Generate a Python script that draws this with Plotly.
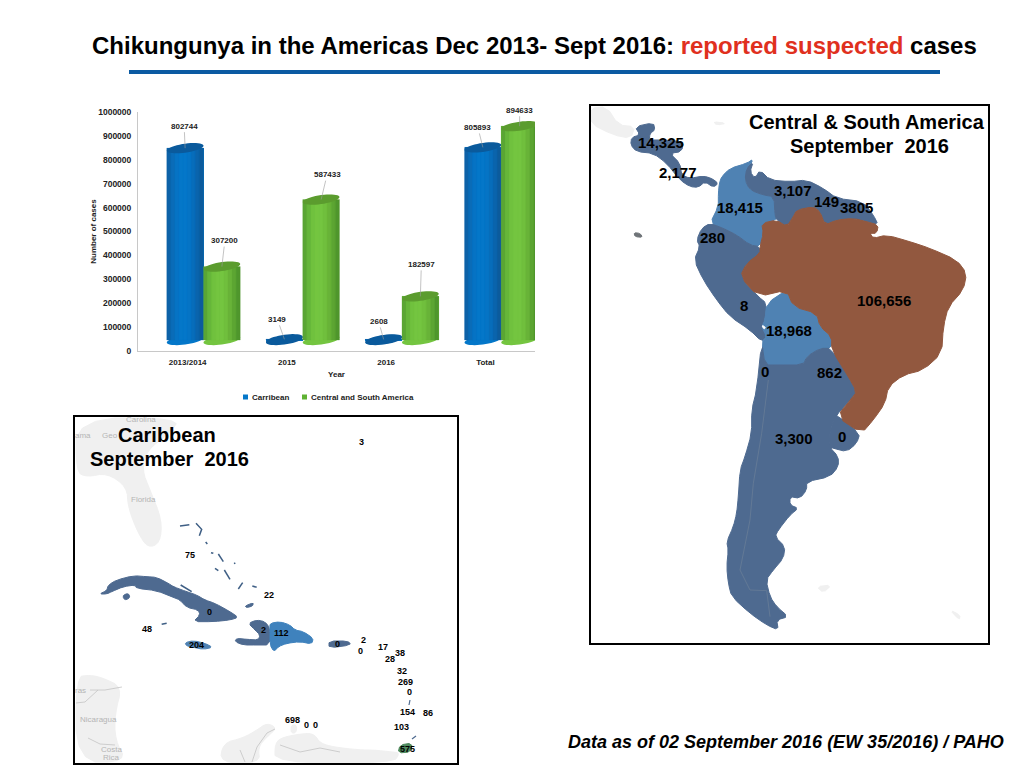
import math
import plotly.graph_objects as go

# ---------- chart data ----------
categories = ["2013/2014", "2015", "2016", "Total"]
caribbean = [802744, 3149, 2608, 805893]
central_south = [307200, 587433, 182597, 894633]
y_ticks = [0, 100000, 200000, 300000, 400000, 500000, 600000, 700000, 800000, 900000, 1000000]

sa_labels = ["14,325", "2,177", "3,107", "149", "3805", "18,415", "280", "106,656", "8", "18,968", "0", "862", "3,300", "0"]
carib_labels = ["3", "75", "22", "0", "48", "204", "2", "112", "0", "2", "0", "17", "38", "28", "32", "269", "0", "154", "86", "103", "698", "0", "0", "575"]

# ---------- style / placement ----------
W, H = 1024, 768
FONT = "Liberation Sans"
BASE = 46000                   # the cylinders float on the 3D floor of the chart
BAR_W = 0.37
BLUE_OFF, GREEN_OFF = -0.21, 0.16
UNITS_PER_PX = 1000000 / 239

blue_strips = ["#0d62a8", "#0a6cb8", "#0673c4", "#0477c9", "#0477c9", "#0574c5", "#076dba", "#0a64ac", "#0c5b9c"]
green_strips = ["#5aa534", "#66b63a", "#70c13e", "#74c540", "#74c540", "#70bf3d", "#68b338", "#5ca532", "#4f962c"]
BLUE_CAP, GREEN_CAP = "#0a5a9c", "#5b9c2e"

offsets_blue = [(-1, -22), (-7, -20), (-5, -18), (-5, -20)]
offsets_green = [(3, -26), (6, -25), (1, -32), (0, -16)]

sa_pos = [(661, 143), (678, 172), (793, 190), (826, 201), (856, 207), (740, 208), (712, 238), (884, 301),
          (744, 305), (789, 331), (765, 371), (829, 372), (794, 438), (842, 436)]
carib_pos = [(361, 442), (190, 555), (269, 595), (209, 612), (147, 629), (196, 645), (263, 630), (281, 633),
             (337, 644), (363, 640), (360, 651), (383, 647), (400, 653), (390, 659), (402, 671), (405, 682),
             (409, 692), (407, 712), (428, 713), (401, 727), (292, 720), (306, 725), (315, 725), (407, 749)]

DARK, LIGHT, BROWN, GREY = "#4e6a90", "#4f82b3", "#92583f", "#f0f0f0"

# basemap outlines, traced in 3x zoom coordinates around (590,100)
sa_shapes = [
    (GREY, [(0, 25), (50, 20), (85, 75), (135, 80), (122, 115), (70, 105), (0, 70)]),
    (GREY, [(370, 65), (410, 70), (380, 75)]),
    (GREY, [(680, 1460), (725, 1455), (700, 1478)]),
    (GREY, [(1080, 1530), (1110, 1545), (1108, 1560)]),
    (DARK, [(135, 80), (190, 68), (195, 90), (180, 100), (178, 120), (225, 120), (280, 125), (275, 155), (240, 160),
            (270, 190), (275, 225), (300, 235), (340, 228), (365, 235), (385, 250), (370, 262), (345, 245), (325, 262),
            (300, 260), (270, 240), (230, 190), (190, 160), (140, 155), (122, 135), (125, 112), (150, 105)]),
    (LIGHT, [(388, 250), (395, 230), (420, 205), (470, 190), (490, 177), (475, 205), (465, 240), (480, 270), (520, 285),
             (552, 290), (555, 345), (560, 360), (515, 370), (520, 400), (510, 440), (480, 435), (440, 405), (400, 385),
             (360, 370), (385, 320), (385, 280)]),
    (DARK, [(470, 205), (490, 185), (480, 215), (495, 235), (510, 210), (540, 240), (600, 245), (650, 240), (700, 265),
            (740, 295), (820, 305), (850, 345), (865, 375), (830, 365), (790, 355), (740, 360), (705, 375), (690, 335),
            (670, 320), (620, 330), (610, 350), (590, 380), (560, 360), (555, 345), (552, 290), (520, 285), (480, 270),
            (465, 240)]),
    (DARK, [(360, 370), (400, 385), (440, 405), (480, 435), (510, 440), (510, 465), (470, 490), (450, 530), (505, 590),
            (530, 610), (525, 660), (515, 680), (530, 710), (515, 725), (480, 690), (420, 650), (380, 600), (340, 540),
            (312, 480), (330, 440), (320, 420), (335, 385)]),
    (LIGHT, [(530, 610), (590, 570), (610, 620), (680, 640), (690, 680), (725, 710), (725, 745), (690, 745), (650, 770),
             (640, 795), (560, 795), (525, 795), (515, 725), (530, 710), (515, 680), (525, 660)]),
    (DARK, [(515, 725), (525, 795), (560, 795), (640, 795), (650, 770), (690, 745), (725, 745), (775, 830), (800, 875),
            (785, 895), (735, 950), (720, 990), (718, 1040), (745, 1070), (745, 1100), (720, 1130), (650, 1145), (650, 1170),
            (630, 1195), (600, 1190), (600, 1215), (625, 1225), (600, 1245), (565, 1290), (555, 1310), (585, 1340), (580, 1375),
            (550, 1410), (528, 1440), (540, 1490), (560, 1520), (595, 1550), (560, 1560), (565, 1590), (530, 1575), (480, 1540),
            (425, 1490), (415, 1450), (410, 1400), (415, 1350), (410, 1325), (430, 1280), (440, 1240), (445, 1190), (450, 1110),
            (465, 1070), (485, 1000), (485, 930), (500, 870)]),
    (DARK, [(735, 950), (740, 945), (810, 1000), (800, 1030), (770, 1055), (730, 1045), (718, 1040), (720, 990)]),
    (BROWN, [(515, 370), (560, 360), (590, 380), (610, 350), (620, 330), (670, 320), (690, 335), (705, 375), (740, 360),
             (790, 355), (830, 365), (865, 375), (860, 400), (840, 400), (850, 415), (890, 405), (960, 425), (1020, 445),
             (1100, 480), (1130, 520), (1120, 570), (1075, 620), (1060, 680), (1055, 760), (1000, 810), (940, 825), (895, 860),
             (885, 910), (850, 960), (815, 1000), (740, 950), (785, 895), (800, 875), (775, 830), (725, 750), (725, 710),
             (690, 680), (680, 640), (610, 620), (590, 570), (505, 590), (450, 530), (470, 490), (510, 460), (510, 440), (520, 400)]),
    ("#6f7478", [(132, 398), (150, 400), (158, 412), (135, 410)]),
    ("#ffffff", [(515, 675), (527, 682), (522, 688)]),
]
sa_origin = (590, 100)
andes_line = [(535, 840), (515, 1000), (490, 1150), (480, 1260), (450, 1410), (480, 1470), (530, 1472), (540, 1550)]

# Caribbean panel: grey land in page pixels, islands in 3x zoom coordinates around (90,520)
us_south = [(76, 418), (180, 418), (170, 433), (147, 450), (142, 470), (150, 490), (162, 520), (160, 543),
            (148, 548), (138, 533), (128, 507), (127, 487), (107, 473), (87, 477), (76, 472)]
central_am = [(76, 677), (90, 675), (103, 678), (122, 687), (115, 713), (115, 740), (127, 762), (76, 762)]
colombia_grey = [(220, 763), (223, 743), (243, 738), (257, 730), (267, 723), (277, 728), (267, 737), (258, 747), (260, 763)]
venezuela_grey = [(275, 743), (283, 737), (307, 733), (315, 735), (320, 743), (333, 747), (360, 750), (373, 750),
                  (393, 752), (400, 753), (393, 763), (275, 763)]
aruba_grey = [(291, 725), (297, 725), (296, 733), (291, 733)]
origin_c = (90, 520)
cuba = [(28, 222), (50, 212), (55, 195), (80, 180), (130, 167), (170, 170), (200, 172), (235, 190), (250, 200), (290, 215),
        (320, 225), (345, 240), (375, 250), (420, 275), (445, 292), (420, 300), (370, 305), (310, 305), (330, 285), (325, 270),
        (290, 262), (270, 240), (250, 232), (200, 212), (140, 205), (135, 195), (100, 200), (65, 215), (50, 222)]
juventud = [(100, 225), (115, 220), (120, 232), (108, 240), (100, 235)]
jamaica = [(285, 368), (310, 362), (345, 370), (368, 382), (340, 388), (310, 382), (290, 378)]
haiti = [(475, 310), (500, 300), (525, 305), (540, 325), (540, 375), (500, 375), (460, 375), (435, 365), (440, 355),
         (470, 358), (505, 360), (510, 345), (495, 330)]
dominican = [(540, 310), (570, 305), (600, 315), (615, 330), (640, 335), (670, 355), (665, 372), (630, 365), (590, 370),
             (565, 380), (552, 395), (540, 375), (540, 325)]
turks = [(465, 258), (490, 248), (488, 258), (470, 263)]
puerto_rico = [(329, 641), (348, 641), (351, 645), (329, 648)]     # page pixels
trinidad = [(400, 745), (412, 743), (411, 752), (398, 753)]        # page pixels
bahamas_strokes = [
    [(270, 18), (298, 14)], [(318, 10), (335, 28), (328, 47)], [(347, 66), (352, 72)], [(363, 98), (370, 100)],
    [(385, 102), (400, 125)], [(375, 145), (385, 152)], [(403, 150), (420, 178)], [(433, 128), (435, 132)],
    [(458, 188), (445, 207)], [(487, 198), (500, 202)], [(272, 195), (305, 215)], [(215, 313), (230, 310)],
]
east_strokes = [[(410, 700), (409, 705)], [(412, 739), (416, 736)]]
grey_lines = [[(90, 690), (105, 690), (122, 687)], [(76, 703), (85, 702), (98, 690)], [(88, 738), (100, 744), (115, 745)],
              [(275, 729), (267, 733), (257, 747), (252, 762)], [(240, 750), (245, 762)], [(280, 745), (300, 752), (320, 748), (340, 752)]]

def px(x):
    return x / W

def py(y):
    return 1 - y / H

def chaikin(points, rounds=1):
    for _ in range(rounds):
        out = []
        n = len(points)
        for i in range(n):
            (x0, y0), (x1, y1) = points[i], points[(i + 1) % n]
            out.append((0.75 * x0 + 0.25 * x1, 0.75 * y0 + 0.25 * y1))
            out.append((0.25 * x0 + 0.75 * x1, 0.25 * y0 + 0.75 * y1))
        points = out
    return points

def poly_path(points):
    return "M" + "L".join(f"{px(x):.5f},{py(y):.5f}" for x, y in points) + "Z"

def open_path(points):
    return "M" + "L".join(f"{px(x):.5f},{py(y):.5f}" for x, y in points)

def from_zoom(points, origin):
    return [(origin[0] + x / 3, origin[1] + y / 3) for x, y in points]

shapes = []
annotations = []

def poly(points, color, rounds=1):
    shapes.append(dict(type="path", xref="paper", yref="paper", path=poly_path(chaikin(points, rounds)), fillcolor=color,
                       line=dict(color=color, width=1), layer="below"))

def stroke(points, color, width):
    shapes.append(dict(type="path", xref="paper", yref="paper", line=dict(color=color, width=width), layer="below",
                       path=open_path(points)))

def note(x, y, text, size, color="#000000", anchor="center"):
    annotations.append(dict(xref="paper", yref="paper", x=px(x), y=py(y), text=text, showarrow=False,
                            xanchor=anchor, yanchor="middle", font=dict(family=FONT, size=size, color=color)))

def frame(x0, y0, x1, y1):
    shapes.append(dict(type="rect", xref="paper", yref="paper", x0=px(x0), x1=px(x1), y0=py(y0), y1=py(y1),
                       line=dict(color="#000000", width=2), layer="above"))

# ---------- maps ----------
for color, pts in sa_shapes:
    poly(from_zoom(pts, sa_origin), color)
stroke(from_zoom(andes_line, sa_origin), "#6c7f98", 0.7)

for pts in (us_south, central_am, colombia_grey, venezuela_grey, aruba_grey):
    poly(pts, GREY, rounds=2)
for pts in (cuba, haiti, juventud, turks):
    poly(from_zoom(pts, origin_c), DARK)
poly(puerto_rico, DARK)
poly(from_zoom(jamaica, origin_c), LIGHT)
poly(from_zoom(dominican, origin_c), "#3f82bd")
poly(trinidad, "#4f8a5f")
for s in bahamas_strokes:
    stroke(from_zoom(s, origin_c), "#3f5f85", 1.5)
for s in east_strokes:
    stroke(s, "#4e6a90", 1.2)
for s in grey_lines:
    stroke(s, "#c4c4c4", 0.8)

frame(590, 105, 989, 644)
frame(74, 416, 458, 764)

for (x, y), t in zip(sa_pos, sa_labels):
    note(x, y, f"<b>{t}</b>", 15)
for (x, y), t in zip(carib_pos, carib_labels):
    note(x, y, f"<b>{t}</b>", 9)

for x, y, t in [(141, 419, "Carolina"), (83, 435, "ama"), (110, 435, "Geo"), (143, 499, "Florida"), (80, 690, "ras"),
                (98, 719, "Nicaragua"), (111, 749, "Costa"), (111, 757, "Rica")]:
    note(x, y, t, 8, color="#b5b5b5")

# ---------- cylinders over the bars ----------
def ellipse(cx, cy, half_w):
    pts = []
    for k in range(40):
        t = 2 * math.pi * k / 40
        pts.append((cx + half_w * math.cos(t),
                    cy + UNITS_PER_PX * (4.5 * math.sin(t) + 2.5 * math.cos(t))))
    return "M" + "L".join(f"{a:.4f},{b:.1f}" for a, b in pts) + "Z"

def cylinders(values, off, strips, cap):
    for i, v in enumerate(values):
        left = i + off
        n = len(strips)
        shapes.append(dict(type="path", xref="x", yref="y", path=ellipse(left + BAR_W / 2, BASE, BAR_W / 2),
                           fillcolor=strips[n // 2] if v > 10000 else cap, line=dict(width=0), layer="above"))
        for k, c in enumerate(strips):
            shapes.append(dict(type="rect", xref="x", yref="y", x0=left + k * BAR_W / n, x1=left + (k + 1) * BAR_W / n,
                               y0=BASE, y1=BASE + v, fillcolor=c, line=dict(width=0.3, color=c), layer="above"))
        shapes.append(dict(type="path", xref="x", yref="y", path=ellipse(left + BAR_W / 2, BASE + v, BAR_W / 2),
                           fillcolor=cap, line=dict(width=0), layer="above"))

cylinders(caribbean, BLUE_OFF, blue_strips, BLUE_CAP)
cylinders(central_south, GREEN_OFF, green_strips, GREEN_CAP)

def value_labels(values, off, offsets):
    for i, (v, (dx, dy)) in enumerate(zip(values, offsets)):
        annotations.append(dict(xref="x", yref="y", x=i + off + BAR_W / 2, y=BASE + v, text=f"<b>{v}</b>",
                                ax=dx, ay=dy, showarrow=True, arrowhead=0, arrowwidth=0.6, arrowcolor="#9a9a9a",
                                font=dict(family=FONT, size=8, color="#222222")))

value_labels(caribbean, BLUE_OFF, offsets_blue)
value_labels(central_south, GREEN_OFF, offsets_green)

# ---------- legend (small squares tight to their text) ----------
legend_items = [("Carribean", "#0477c9", 243), ("Central and South America", "#5fb233", 302)]
for name, color, x0 in legend_items:
    shapes.append(dict(type="rect", xref="paper", yref="paper", x0=px(x0), x1=px(x0 + 5), y0=py(399.5), y1=py(394.5),
                       fillcolor=color, line=dict(width=0), layer="above"))
    note(x0 + 7, 397, f"<b>{name}</b>", 8, color="#222222", anchor="left")

# ---------- slide text ----------
note(534, 45, "<b>Chikungunya in the Americas Dec 2013- Sept 2016: <span style='color:#e0301e'>reported suspected</span> cases</b>", 24)
shapes.append(dict(type="line", xref="paper", yref="paper", x0=px(129), x1=px(940), y0=py(72), y1=py(72),
                   line=dict(color="#0b5aa2", width=4)))
note(867, 122, "<b>Central &amp; South America</b>", 20)
note(869, 146, "<b>September  2016</b>", 20)
note(167, 435, "<b>Caribbean</b>", 20)
note(169, 459, "<b>September  2016</b>", 20)
note(786, 742, "<b><i>Data as of 02 September 2016 (EW 35/2016) / PAHO</i></b>", 18)

# ---------- chart ----------
fig = go.Figure()
x_idx = list(range(len(categories)))
fig.add_trace(go.Bar(name="Carribean", x=x_idx, y=caribbean, base=BASE, width=BAR_W, offset=BLUE_OFF,
                     marker=dict(color="#0477c9", line=dict(width=0))))
fig.add_trace(go.Bar(name="Central and South America", x=x_idx, y=central_south, base=BASE, width=BAR_W, offset=GREEN_OFF,
                     marker=dict(color="#74c540", line=dict(width=0))))

tick_font = dict(family=FONT, size=8.5, color="#222222")
title_font = dict(family=FONT, size=8, color="#222222")
fig.update_layout(
    width=W, height=H, margin=dict(l=0, r=0, t=0, b=0, pad=0, autoexpand=False), autosize=False, showlegend=False,
    paper_bgcolor="#ffffff", plot_bgcolor="rgba(0,0,0,0)",
    barmode="overlay", shapes=shapes, annotations=annotations, bargap=0,
    font=dict(family=FONT),
    xaxis=dict(domain=[138 / W, 535 / W], range=[-0.5, 3.5], tickmode="array", tickvals=x_idx,
               ticktext=[f"<b>{c}</b>" for c in categories], tickfont=dict(family=FONT, size=8, color="#222222"),
               showgrid=False, zeroline=False, showline=True, linecolor="#c8c8c8", linewidth=1, ticks="", ticklen=0,
               ticklabelstandoff=3, title=dict(text="<b>Year</b>", font=title_font, standoff=5), fixedrange=True),
    yaxis=dict(domain=[1 - 351 / H, 1 - 112 / H], range=[0, 1000000], tickmode="array", tickvals=y_ticks,
               ticktext=[f"<b>{t}</b>" for t in y_ticks], tickfont=tick_font, showgrid=False, zeroline=False,
               showline=True, linecolor="#c8c8c8", linewidth=1, ticks="", ticklen=0, ticklabelstandoff=4,
               title=dict(text="<b>Number of cases</b>", font=title_font, standoff=0), fixedrange=True),
)
fig.write_html("out.html", config={"displayModeBar": False},
               post_script="document.body.style.margin='0';document.body.style.overflow='hidden';")
